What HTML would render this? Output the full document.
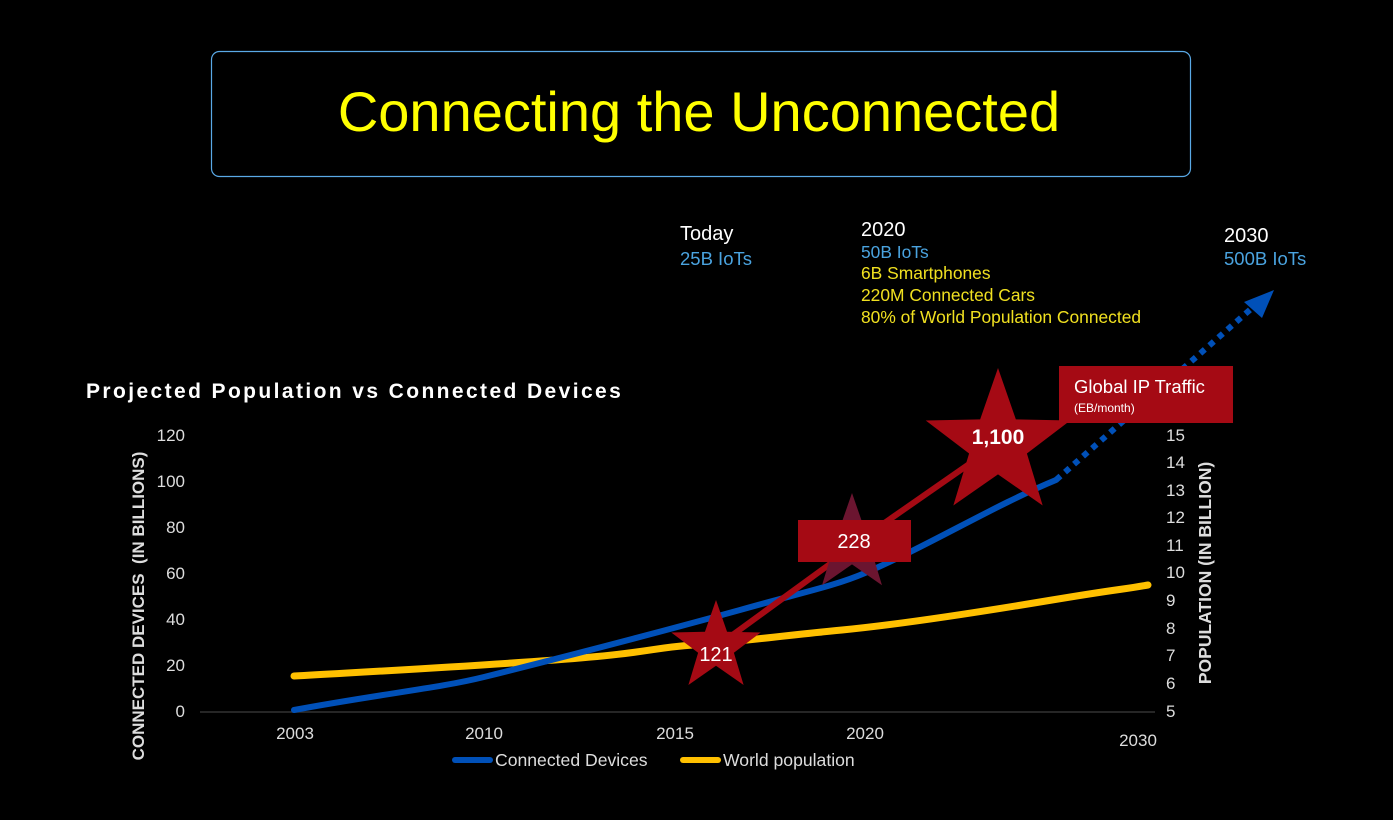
<!DOCTYPE html>
<html><head><meta charset="utf-8"><style>
html,body{margin:0;padding:0;background:#000;}
svg{display:block;font-family:"Liberation Sans",Arial,sans-serif;}
</style></head><body>
<svg width="1393" height="820" viewBox="0 0 1393 820" xmlns="http://www.w3.org/2000/svg">
<rect width="1393" height="820" fill="#000"/>
<rect x="211.5" y="51.5" width="979" height="125" rx="8" fill="none" stroke="#5aa9e6" stroke-width="1.2"/>
<text x="699" y="131" font-size="56" fill="#ffff00" text-anchor="middle">Connecting the Unconnected</text>

<text x="680" y="240" font-size="20" fill="#fff">Today</text>
<text x="680" y="265" font-size="18.5" fill="#4aa3df">25B IoTs</text>
<text x="861" y="236" font-size="20" fill="#fff">2020</text>
<text x="861" y="258" font-size="17.4" fill="#4aa3df">50B IoTs</text>
<text x="861" y="279" font-size="17.4" fill="#f0e020">6B Smartphones</text>
<text x="861" y="301" font-size="17.4" fill="#f0e020">220M Connected Cars</text>
<text x="861" y="323" font-size="17.4" fill="#f0e020">80% of World Population Connected</text>
<text x="1224" y="242" font-size="20" fill="#fff">2030</text>
<text x="1224" y="265" font-size="18.5" fill="#4aa3df">500B IoTs</text>

<text x="86" y="398" font-size="21" font-weight="bold" fill="#fff" letter-spacing="2.4">Projected Population vs Connected Devices</text>

<g font-size="17" fill="#ddd" text-anchor="end">
<text x="185" y="441">120</text><text x="185" y="487">100</text><text x="185" y="533">80</text>
<text x="185" y="579">60</text><text x="185" y="625">40</text><text x="185" y="671">20</text><text x="185" y="717">0</text>
</g>
<g font-size="17" fill="#ddd">
<text x="1166" y="441">15</text><text x="1166" y="468">14</text><text x="1166" y="496">13</text>
<text x="1166" y="523">12</text><text x="1166" y="551">11</text><text x="1166" y="578">10</text>
<text x="1166" y="606">9</text><text x="1166" y="634">8</text><text x="1166" y="661">7</text>
<text x="1166" y="689">6</text><text x="1166" y="717">5</text>
</g>
<text transform="translate(144,606) rotate(-90)" font-size="17" font-weight="bold" fill="#ddd" text-anchor="middle">CONNECTED DEVICES &#160;(IN BILLIONS)</text>
<text transform="translate(1211,573) rotate(-90)" font-size="17.5" font-weight="bold" fill="#ddd" text-anchor="middle">POPULATION (IN BILLION)</text>

<line x1="200" y1="712" x2="1155" y2="712" stroke="#333" stroke-width="1.5"/>
<g font-size="17" fill="#ddd" text-anchor="middle">
<text x="295" y="739">2003</text><text x="484" y="739">2010</text><text x="675" y="739">2015</text>
<text x="865" y="739">2020</text><text x="1138" y="746">2030</text>
</g>

<path d="M294,676 C400,670 460,667 555,660 S650,648 693,645 S780,636 842,630 S980,612 1052,600 S1120,590 1148,585" fill="none" stroke="#ffc000" stroke-width="7" stroke-linecap="round"/>
<path d="M294,710 C380,694 440,688 484,677 C560,658 660,632 740,610 C800,593 835,586 865,573 C930,545 995,505 1056,480" fill="none" stroke="#0050b8" stroke-width="6" stroke-linecap="round"/>
<path d="M1056,480 L1252,308" fill="none" stroke="#0050b8" stroke-width="6" stroke-dasharray="6,6"/>
<polygon points="1274,290 1244,302 1262,318" fill="#0050b8"/>

<path d="M716,647 L852,548" stroke="#a50a14" stroke-width="6" fill="none"/>
<path d="M860,540 L998,444" stroke="#a50a14" stroke-width="6" fill="none"/>

<polygon points="852,493 863.99,527.5 900.5,528.24 871.4,550.3 881.98,585.26 852,564.4 822.02,585.26 832.6,550.3 803.5,528.24 840.01,527.5" fill="#6b1530"/>
<polygon points="716,600 727.05,631.8 760.7,632.5 733.88,652.8 743.62,685.03 716,665.8 688.38,685.03 698.12,652.8 671.3,632.5 704.95,631.8" fill="#a50a14"/>
<polygon points="998,368 1015.86,419.4 1070.28,420.52 1026.91,453.49 1042.67,505.48 998,474.4 953.33,505.48 969.09,453.49 925.72,420.52 980.14,419.4" fill="#a50a14"/>

<rect x="798" y="520" width="113" height="42" fill="#a50a14"/>
<text x="854" y="548" font-size="20" fill="#fff" text-anchor="middle">228</text>
<text x="716" y="661" font-size="20" fill="#fff" text-anchor="middle">121</text>
<text x="998" y="444" font-size="21" font-weight="bold" fill="#fff" text-anchor="middle">1,100</text>

<rect x="1059" y="366" width="174" height="57" fill="#a50a14"/>
<text x="1074" y="393" font-size="18.5" fill="#fff">Global IP Traffic</text>
<text x="1074" y="412" font-size="12" fill="#fff">(EB/month)</text>

<line x1="455" y1="760" x2="490" y2="760" stroke="#0050b8" stroke-width="6" stroke-linecap="round"/>
<text x="495" y="766" font-size="17.6" fill="#ddd">Connected Devices</text>
<line x1="683" y1="760" x2="718" y2="760" stroke="#ffc000" stroke-width="6" stroke-linecap="round"/>
<text x="723" y="766" font-size="17.6" fill="#ddd">World population</text>
</svg>
</body></html>
